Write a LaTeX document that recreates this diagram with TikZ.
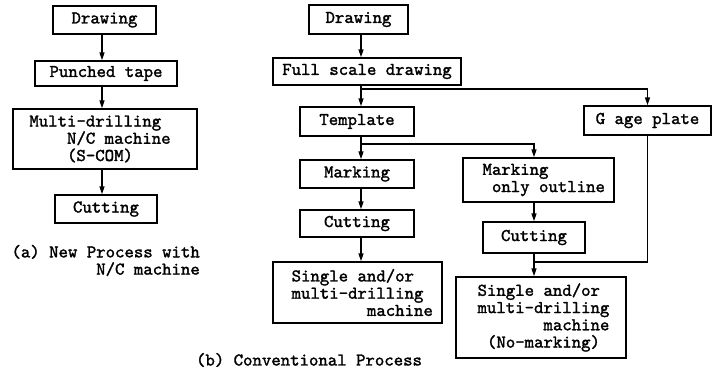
\documentclass[tikz,border=0pt]{standalone}
\usepackage{fontspec}
\newfontfamily\tw{lmmono10-regular.otf}[FakeBold=1.6]
\usetikzlibrary{arrows.meta,calc}
\newcommand\ind[1]{\hspace*{#1\fontcharwd\font`x}}
\newcommand\sh[1]{\hspace*{#1bp}}
\begin{document}
\begin{tikzpicture}[x=1bp,y=-1bp,
  every node/.style={font=\tw\fontsize{18}{17.3}\selectfont},
  box/.style={draw, line width=1.4bp, inner sep=0pt, align=left},
  arr/.style={line width=1.4bp, -{Triangle[length=8bp,width=5bp]}},
  ln/.style={line width=1.4bp}]
\useasboundingbox (0,0) rectangle (714,371);
% (a)
\node[box, minimum width=103bp, minimum height=28bp] (da) at (104.5,20) {Drawing};
\node[box, minimum width=142bp, minimum height=25bp] (pt) at (106,73.5) {Punched tape};
\node[box, minimum width=184bp, minimum height=60bp] (mc) at (105,139)
  {Multi-drilling\sh{10}\null\\\ind4N/C machine\sh{10}\null\\\ind4(S-COM)\sh{10}\null};
\node[box, minimum width=102bp, minimum height=28bp] (pc) at (106,209) {Cutting};
\node[align=right, anchor=east, inner sep=0pt] (capa) at (200,260.5) {(a) New Process with\\N/C machine};
\coordinate (ax) at (102,0);
\draw[arr] (da.south -| ax) -- (pt.north -| ax);
\draw[arr] (pt.south -| ax) -- (mc.north -| ax);
\draw[arr] (mc.south -| ax) -- (pc.north -| ax);
% (b)
\node[box, minimum width=99bp, minimum height=29bp] (db) at (358.5,19.5) {Drawing};
\node[box, minimum width=188bp, minimum height=27bp] (fs) at (367,71.5) {Full scale drawing};
\node[box, minimum width=114bp, minimum height=29bp] (tp) at (357,121.5) {Template};
\node[box, minimum width=114bp, minimum height=28bp] (mk) at (357,174) {Marking};
\node[box, minimum width=127bp, minimum height=29bp] (gp) at (647.5,120.5) {G age plate};
\node[box, minimum width=151bp, minimum height=44bp] (mo) at (538.5,180)
  {\sh{10.5}Marking\\\sh{10.5}\ind1only outline};
\node[box, minimum width=114bp, minimum height=27bp] (cl) at (357,223.5) {Cutting};
\node[box, minimum width=169bp, minimum height=61bp] (sl) at (357.5,292.5)
  {\sh{9.5}Single and/or\\\sh{9.5}multi-drilling\\\sh{9.5}\ind8machine};
\node[box, minimum width=102bp, minimum height=31bp] (cr) at (534,237.5) {Cutting};
\node[box, minimum width=170bp, minimum height=81bp] (sr) at (541,317.5)
  {\sh{5}Single and/or\\\sh{5}multi-drilling\\\sh{5}\ind7machine\\\sh{5}\ind1(No-marking)};
\node[inner sep=0pt] (capb) at (309,360) {(b) Conventional Process};
\coordinate (bx) at (361,0);
\coordinate (b1) at (361,89);
\coordinate (b2) at (361,144);
\coordinate (j) at (534,262);
\draw[arr] (db.south -| bx) -- (fs.north -| bx);
\draw[arr] (fs.south -| bx) -- (tp.north -| bx);
\draw[arr] (b1) -| (gp.north);
\draw[arr] (tp.south -| bx) -- (mk.north -| bx);
\draw[arr] (b2) -| (mo.north -| cr);
\draw[arr] (mk.south -| bx) -- (cl.north -| bx);
\draw[arr] (cl.south -| bx) -- (sl.north -| bx);
\draw[arr] (mo.south -| cr) -- (cr.north);
\draw[arr] (cr.south) -- (sr.north -| cr);
\draw[ln] (gp.south) |- (j);
\end{tikzpicture}
\end{document}
